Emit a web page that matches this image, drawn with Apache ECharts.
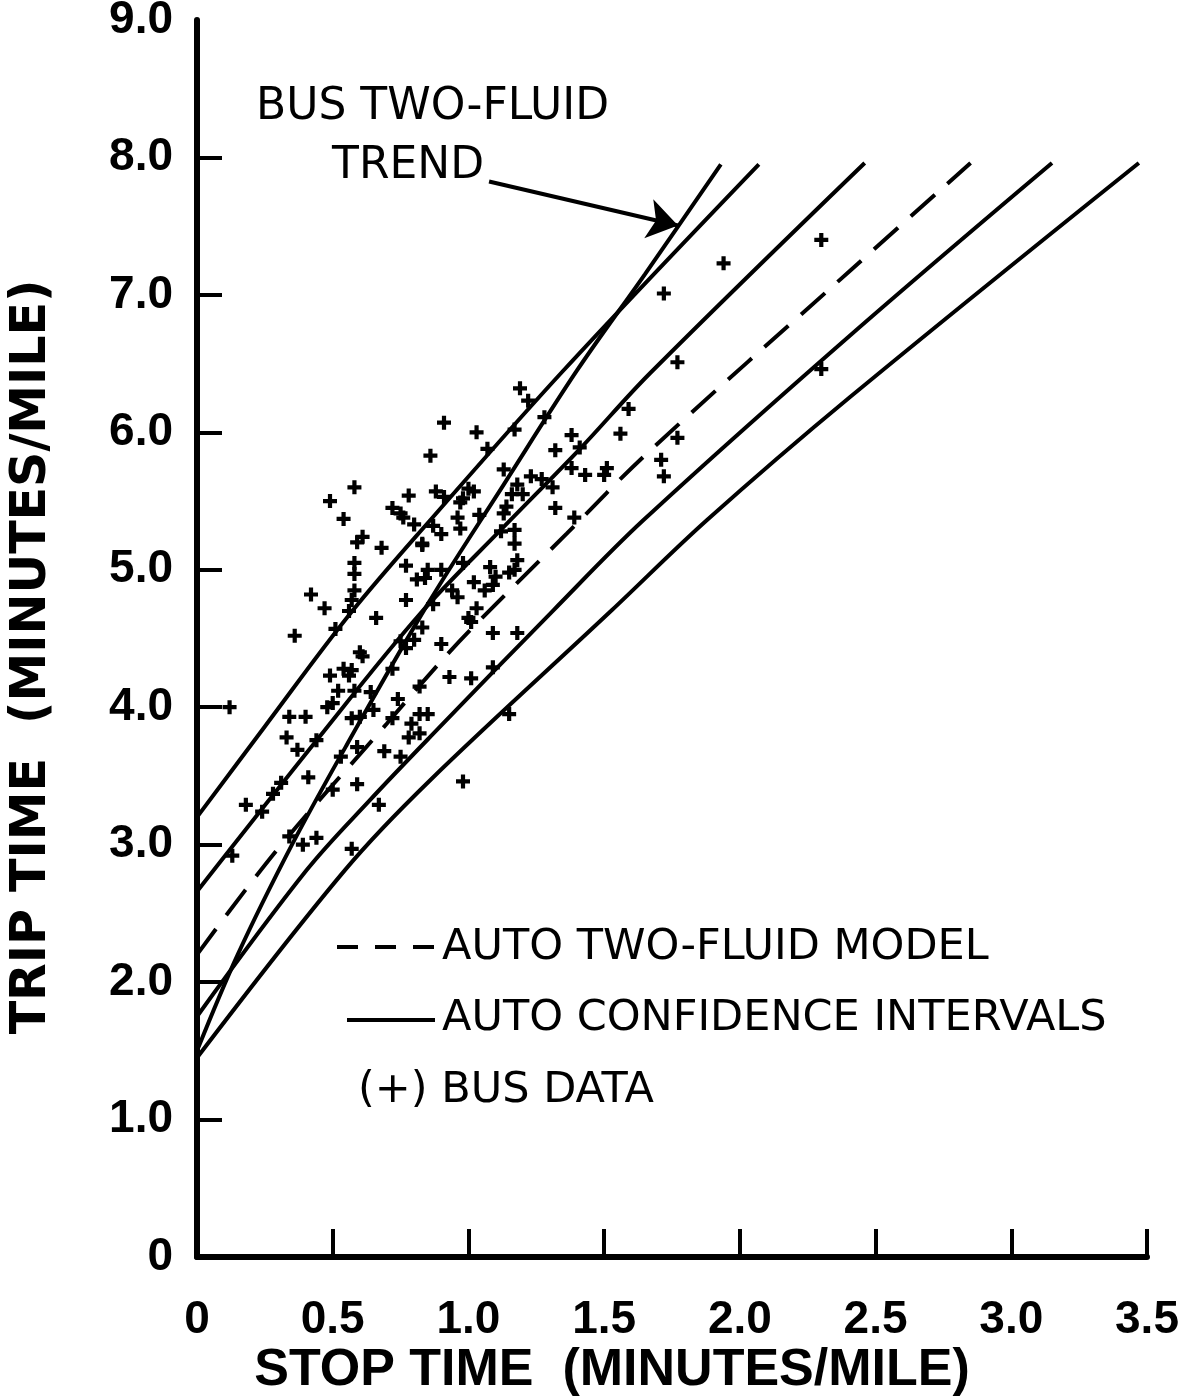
<!DOCTYPE html>
<html>
<head>
<meta charset="utf-8">
<script src="https://cdn.jsdelivr.net/npm/echarts@6/dist/echarts.min.js"></script>
<style>
  html, body { margin: 0; padding: 0; background: #ffffff; }
  #chart { width: 1191px; height: 1396px; }
</style>
</head>
<body>
<div id="chart"></div>
<script>
// Axis ticks and their printed labels
const xTickValues = [0, 0.5, 1, 1.5, 2, 2.5, 3, 3.5];
const xTickLabels = ['0', '0.5', '1.0', '1.5', '2.0', '2.5', '3.0', '3.5'];
const yTickValues = [0, 1, 2, 3, 4, 5, 6, 7, 8, 9];
const yTickLabels = ['0', '1.0', '2.0', '3.0', '4.0', '5.0', '6.0', '7.0', '8.0', '9.0'];

// Auto two-fluid model (stop time, trip time)
const autoModel = [[0, 2.2], [0.294, 2.96], [0.699, 3.88], [0.859, 4.245], [1.006, 4.56],
  [1.362, 5.263], [1.657, 5.845], [2.406, 7.176], [2.85, 7.96]];

// Auto confidence intervals
const ciUpperOuter = [[0, 3.2], [0.25, 3.86], [0.564, 4.68], [0.859, 5.36], [1.35, 6.45], [2.07, 7.95]];
const ciUpperInner = [[0, 2.66], [0.441, 3.76], [0.822, 4.68], [1.129, 5.31], [1.411, 5.88],
  [1.669, 6.43], [2.46, 7.96]];
const ciLowerInner = [[0, 1.75], [0.404, 2.815], [0.637, 3.324], [0.859, 3.784], [1.313, 4.705],
  [1.644, 5.36], [2.406, 6.705], [3.15, 7.96]];
const ciLowerOuter = [[0, 1.45], [0.545, 2.815], [0.859, 3.469], [1.528, 4.705], [1.878, 5.36],
  [2.406, 6.257], [3.47, 7.96]];

// Bus two-fluid trend
const busTrend = [[0, 1.5], [0.15, 2.2], [0.35, 3.0], [0.55, 3.72], [0.85, 4.75], [1.13, 5.62],
  [1.4, 6.45], [1.65, 7.15], [1.93, 7.95]];

// Arrow from the "BUS TWO-FLUID TREND" note to the trend curve
const trendArrow = [[1.076, 7.825], [1.772, 7.505]];

// Bus observations (stop time, trip time)
const busData = [
  [0.58, 5.60], [0.49, 5.50], [0.78, 5.54], [0.72, 5.45], [0.75, 5.41], [0.76, 5.38], [0.54, 5.37],
  [0.80, 5.33], [0.61, 5.24], [0.59, 5.20], [0.68, 5.16], [0.83, 5.19], [0.58, 5.05], [0.58, 4.97],
  [0.77, 5.03], [0.85, 5.00], [0.81, 4.93], [0.84, 4.94], [0.58, 4.85], [0.57, 4.78], [0.42, 4.82],
  [0.47, 4.72], [0.77, 4.78], [0.56, 4.70], [0.66, 4.65],
  [1.19, 6.32], [1.22, 6.23], [0.91, 6.07], [1.03, 6.00], [0.86, 5.83], [1.59, 6.17], [1.38, 5.98],
  [1.56, 5.99], [1.32, 5.87], [1.41, 5.89], [1.07, 5.88], [1.17, 6.02], [1.28, 6.11], [1.38, 5.74],
  [1.43, 5.69], [1.51, 5.74], [1.50, 5.69], [1.13, 5.73], [1.23, 5.68], [1.27, 5.66], [1.18, 5.62],
  [1.16, 5.55], [1.20, 5.55], [1.31, 5.60], [1.32, 5.45], [0.88, 5.57], [0.91, 5.53], [1.00, 5.59],
  [1.02, 5.57], [0.98, 5.52], [0.97, 5.49], [0.96, 5.38], [0.97, 5.30], [0.87, 5.32], [0.90, 5.26],
  [0.83, 5.18], [1.04, 5.40], [1.14, 5.46], [1.13, 5.41], [1.12, 5.28], [1.17, 5.29], [1.17, 5.19],
  [1.39, 5.38], [1.18, 5.07], [1.15, 4.98], [1.17, 5.00], [1.08, 5.02], [1.10, 4.95], [1.02, 4.91],
  [1.06, 4.85], [1.09, 4.89], [0.90, 5.00], [0.98, 5.05], [0.94, 4.85], [0.96, 4.80], [1.03, 4.72],
  [0.87, 4.75], [1.00, 4.65],
  [0.36, 4.52], [0.51, 4.57], [0.60, 4.40], [0.61, 4.37], [0.49, 4.23], [0.54, 4.28], [0.57, 4.27],
  [0.56, 4.23], [0.52, 4.12], [0.48, 4.00], [0.50, 4.03], [0.58, 4.12], [0.12, 4.00], [0.34, 3.93],
  [0.40, 3.93], [0.33, 3.78], [0.37, 3.69], [0.44, 3.76], [0.72, 4.28], [0.75, 4.48], [0.77, 4.43],
  [0.80, 4.49], [0.83, 4.58], [0.65, 3.98], [0.60, 3.93], [0.57, 3.92], [0.74, 4.06], [0.72, 3.92],
  [0.64, 4.11], [0.82, 4.15], [0.82, 3.95], [0.79, 3.88], [0.85, 3.95], [0.78, 3.78], [0.82, 3.81],
  [0.59, 3.71], [0.69, 3.68], [0.75, 3.64], [0.53, 3.64], [0.41, 3.49], [0.59, 3.44], [0.50, 3.40],
  [0.31, 3.45], [0.28, 3.37], [0.18, 3.29], [0.24, 3.24], [0.67, 3.29], [0.44, 3.05], [0.39, 3.00],
  [0.57, 2.97], [0.13, 2.92], [0.34, 3.06],
  [1.01, 4.62], [0.90, 4.46], [1.09, 4.54], [1.18, 4.54], [1.09, 4.29], [0.93, 4.22], [1.01, 4.21],
  [1.15, 3.95], [0.98, 3.46],
  [2.30, 7.40], [1.94, 7.23], [1.72, 7.01], [1.77, 6.51], [2.30, 6.46], [1.77, 5.96], [1.71, 5.80],
  [1.72, 5.68]
];

const INK = '#000000';
const LETTER_FONT = "'DejaVu Sans', sans-serif";
const NUMBER_FONT = "'Liberation Sans', Arial, sans-serif";
// bold plus sign used for the bus observations
const PLUS = 'path://M4.2,0H7.8V4.2H12V7.8H7.8V12H4.2V7.8H0V4.2H4.2Z';

function labelFor(values, labels) {
  return function (v) {
    for (let i = 0; i < values.length; i++) {
      if (Math.abs(values[i] - v) < 1e-9) return labels[i];
    }
    return '';
  };
}

function curve(name, data, dashed) {
  return {
    name: name,
    type: 'line',
    data: data,
    smooth: 0.35,
    showSymbol: false,
    symbol: 'none',
    silent: true,
    z: 3,
    lineStyle: {
      color: INK,
      width: 4,
      type: dashed ? [32, 17] : 'solid',
      cap: 'butt'
    }
  };
}

const chart = echarts.init(document.getElementById('chart'), null, { renderer: 'canvas' });

chart.setOption({
  animation: false,
  backgroundColor: '#ffffff',
  grid: { left: 197, right: 44, top: 20, bottom: 139, containLabel: false, outerBoundsMode: 'none' },
  xAxis: {
    type: 'value',
    min: 0,
    max: 3.5,
    interval: 0.5,
    axisLine: { show: true, onZero: false, lineStyle: { color: INK, width: 6 } },
    axisTick: {
      show: true, inside: true, length: 28,
      customValues: xTickValues.filter(v => v > 0),
      lineStyle: { color: INK, width: 4 }
    },
    axisLabel: {
      show: true, margin: 40, color: INK,
      fontFamily: NUMBER_FONT, fontWeight: 'bold', fontSize: 46,
      customValues: xTickValues,
      formatter: labelFor(xTickValues, xTickLabels)
    },
    splitLine: { show: false }
  },
  yAxis: {
    type: 'value',
    min: 0,
    max: 9,
    interval: 1,
    axisLine: { show: true, onZero: false, lineStyle: { color: INK, width: 6 } },
    axisTick: {
      show: true, inside: true, length: 25,
      customValues: yTickValues.filter(v => v > 0 && v < 9),
      lineStyle: { color: INK, width: 4 }
    },
    axisLabel: {
      show: true, margin: 24, color: INK,
      fontFamily: NUMBER_FONT, fontWeight: 'bold', fontSize: 46,
      customValues: yTickValues,
      formatter: labelFor(yTickValues, yTickLabels)
    },
    splitLine: { show: false }
  },
  series: [
    curve('AUTO CONFIDENCE INTERVALS', ciUpperOuter, false),
    curve('AUTO CONFIDENCE INTERVALS', ciUpperInner, false),
    curve('AUTO CONFIDENCE INTERVALS', ciLowerInner, false),
    curve('AUTO CONFIDENCE INTERVALS', ciLowerOuter, false),
    curve('AUTO TWO-FLUID MODEL', autoModel, true),
    curve('BUS TWO-FLUID TREND', busTrend, false),
    {
      name: 'trend note arrow',
      type: 'lines',
      coordinateSystem: 'cartesian2d',
      silent: true,
      z: 4,
      symbol: ['none', 'arrow'],
      symbolSize: [12, 30],
      lineStyle: { color: INK, width: 4, opacity: 1, curveness: 0 },
      data: [{ coords: trendArrow }]
    },
    {
      name: 'BUS DATA',
      type: 'scatter',
      data: busData,
      symbol: PLUS,
      symbolSize: 14,
      silent: true,
      z: 5,
      itemStyle: { color: INK, opacity: 1 }
    }
  ],
  graphic: [
    {
      type: 'text', x: 32, y: 657, rotation: Math.PI / 2,
      style: {
        text: 'TRIP TIME  (MINUTES/MILE)', fill: INK,
        font: "bold 49px 'DejaVu Sans', sans-serif",
        align: 'center', verticalAlign: 'middle'
      }
    },
    {
      type: 'text', x: 612, y: 1371,
      style: {
        text: 'STOP TIME  (MINUTES/MILE)', fill: INK,
        font: "bold 52px 'Liberation Sans', Arial, sans-serif",
        align: 'center', verticalAlign: 'middle'
      }
    },
    {
      type: 'text', x: 256, y: 108,
      style: { text: 'BUS TWO-FLUID', fill: INK, font: '44px ' + LETTER_FONT, align: 'left', verticalAlign: 'middle' }
    },
    {
      type: 'text', x: 332, y: 167,
      style: { text: 'TREND', fill: INK, font: '44px ' + LETTER_FONT, align: 'left', verticalAlign: 'middle' }
    },
    {
      type: 'line', shape: { x1: 337, y1: 947, x2: 435, y2: 947 },
      style: { stroke: INK, lineWidth: 4, lineDash: [21, 17] }
    },
    {
      type: 'text', x: 442, y: 948,
      style: { text: 'AUTO TWO-FLUID MODEL', fill: INK, font: '43px ' + LETTER_FONT, align: 'left', verticalAlign: 'middle' }
    },
    {
      type: 'line', shape: { x1: 347, y1: 1020, x2: 435, y2: 1020 },
      style: { stroke: INK, lineWidth: 4 }
    },
    {
      type: 'text', x: 442, y: 1019,
      style: { text: 'AUTO CONFIDENCE INTERVALS', fill: INK, font: '43px ' + LETTER_FONT, align: 'left', verticalAlign: 'middle' }
    },
    {
      type: 'text', x: 358, y: 1091,
      style: { text: '(+) BUS DATA', fill: INK, font: '43px ' + LETTER_FONT, align: 'left', verticalAlign: 'middle' }
    }
  ]
});
</script>
</body>
</html>
